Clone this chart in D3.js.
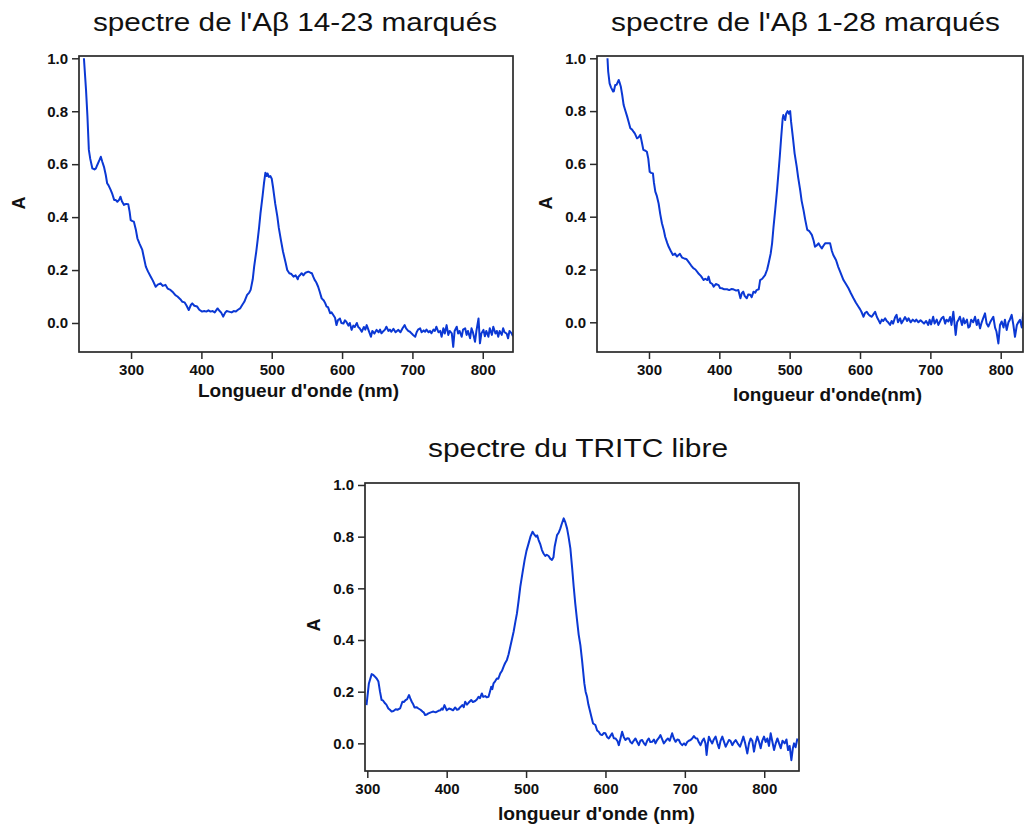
<!DOCTYPE html>
<html>
<head>
<meta charset="utf-8">
<script src="https://cdn.jsdelivr.net/npm/d3@7"></script>
<style>
  html, body { margin: 0; padding: 0; background: #fff; }
  svg { display: block; }
</style>
</head>
<body>
<svg id="chart" width="1024" height="828"></svg>
<script>
// ---------------- DATA ----------------
const titles = ["spectre de l'A\u03b2 14-23 marqués", "spectre de l'A\u03b2 1-28 marqués", "spectre du TRITC libre"];
const xLabels = ["Longueur d'onde (nm)", "longueur d'onde(nm)", "longueur d'onde (nm)"];
const yLabel = "A";
const xTicks = [300, 400, 500, 600, 700, 800];
const yTicks = [0.0, 0.2, 0.4, 0.6, 0.8, 1.0];

// [wavelength (nm), absorbance]
const spectrumAb1423 = [
[233,1.0],[236,0.88],[238,0.78],[240,0.654],[242,0.62],[245,0.584],[248,0.58],[250,0.584],[252,0.597],[255,0.615],
[257,0.628],[259,0.61],[261.5,0.59],[264,0.56],[266,0.528],[268,0.52],[271,0.503],[273,0.49],[276,0.465],[278,0.465],
[280.5,0.458],[283,0.465],[285,0.477],[287,0.46],[290,0.446],[293,0.45],[296,0.449],[298,0.42],[299.5,0.389],[302,0.385],
[304,0.383],[307,0.35],[309,0.32],[312,0.3],[316,0.276],[318,0.25],[321,0.213],[324,0.195],[328,0.175],[331,0.16],
[335,0.137],[338,0.145],[342,0.15],[345,0.14],[349,0.144],[352,0.13],[356,0.125],[360,0.115],[363,0.105],[366,0.1],
[370,0.09],[373,0.08],[376,0.078],[379,0.065],[382,0.049],[385,0.068],[387,0.074],[390,0.065],[394,0.062],[397,0.05],
[401,0.043],[404,0.045],[407,0.043],[410,0.048],[413,0.043],[416,0.045],[419,0.04],[423,0.055],[426,0.045],[428,0.04],
[431,0.024],[434,0.04],[436,0.045],[439,0.043],[443,0.04],[446,0.045],[449,0.043],[452,0.05],[455,0.055],[458,0.068],
[461,0.08],[465,0.106],[468,0.115],[470,0.125],[473,0.165],[475,0.213],[478,0.27],[480,0.314],[482,0.36],[484,0.414],
[487,0.48],[489,0.528],[491,0.568],[493,0.555],[494,0.565],[496,0.552],[498,0.555],[500,0.545],[502,0.51],[503,0.49],
[505,0.45],[508,0.402],[510,0.36],[513,0.314],[516,0.27],[520,0.225],[522,0.2],[525,0.188],[528,0.185],[531,0.175],
[534,0.18],[537,0.165],[538,0.175],[540,0.18],[542.5,0.188],[545,0.18],[548,0.19],[552,0.194],[555,0.19],[557,0.188],
[559,0.175],[561,0.163],[563,0.155],[566,0.137],[568,0.12],[571,0.093],[574,0.085],[576,0.075],[578,0.062],[580,0.06],
[583,0.037],[585,0.04],[587.5,0.03],[590,0.02],[592,-0.008],[594,0.01],[597,0.017],[599,0.0],[602,-0.002],[604,0.01],
[606,0.005],[609,-0.01],[611,0.0],[613.5,-0.026],[616,-0.01],[618,-0.015],[621,0.0],[623,-0.015],[625,-0.02],[628,-0.033],
[631,-0.015],[633,-0.025],[635,-0.008],[638,-0.03],[641,-0.052],[643,-0.03],[646,-0.04],[649,-0.026],[652,-0.035],[654,-0.025],
[656,-0.039],[659,-0.03],[661,-0.025],[663,-0.014],[666,-0.03],[668,-0.025],[670,-0.033],[673,-0.022],[676,-0.035],[678,-0.03],
[680,-0.026],[683,-0.035],[686,-0.02],[689,-0.008],[691,-0.02],[694,-0.03],[696.5,-0.033],[699,-0.04],[701,-0.045],[704,-0.052],
[706,-0.035],[708,-0.025],[711,-0.02],[713,-0.035],[716,-0.028],[718,-0.033],[720,-0.025],[723,-0.035],[725,-0.03],[727,-0.039],
[730,-0.025],[732,-0.03],[734,-0.014],[737,-0.035],[739.5,-0.03],[741.5,-0.052],[744,-0.02],[746,-0.04],[748.6,-0.008],[751,-0.045],
[753,-0.03],[756,-0.039],[758,-0.09],[760,-0.03],[763,-0.014],[765,-0.04],[767,-0.03],[770,-0.052],[772,-0.025],[775,-0.02],
[777,-0.045],[779,-0.03],[782,-0.058],[784,-0.02],[786,-0.035],[789,-0.071],[791,-0.03],[794,0.017],[796,-0.077],[798,-0.04],
[801,-0.026],[803,-0.05],[805,-0.03],[808,-0.052],[810,-0.02],[813,-0.045],[815,-0.014],[818,-0.04],[820,-0.03],[822,-0.052],
[824,-0.03],[827,-0.045],[829,-0.02],[831,-0.035],[834,-0.04],[836,-0.058],[838,-0.03],[841,-0.039],[843,-0.05]
];

const spectrumAb128 = [
[241,1.0],[242,0.95],[244,0.905],[246,0.89],[249,0.874],[250,0.875],[252,0.899],[254,0.9],[257,0.918],[258,0.91],
[260,0.892],[262,0.86],[264,0.823],[266,0.805],[269,0.779],[271,0.76],[273.5,0.735],[276,0.73],[278,0.722],[280,0.715],
[283,0.697],[285,0.7],[287.7,0.71],[290,0.68],[292,0.653],[295,0.65],[297,0.646],[299,0.62],[301,0.57],[303,0.566],
[305.6,0.564],[307,0.53],[309,0.495],[311,0.48],[313.7,0.45],[316,0.41],[318.4,0.375],[321,0.35],[323,0.324],[326,0.3],
[328,0.286],[331,0.27],[334,0.255],[337,0.26],[339.7,0.249],[342,0.255],[344,0.259],[347,0.245],[350,0.242],[353,0.24],
[356,0.23],[360,0.215],[363,0.205],[366,0.2],[370,0.186],[374,0.175],[377.6,0.16],[380,0.165],[383,0.16],[384.7,0.173],
[387,0.15],[390,0.145],[392,0.135],[395,0.145],[399,0.141],[401,0.13],[403.7,0.129],[407,0.125],[411,0.125],[414,0.122],
[417,0.126],[420,0.125],[424,0.12],[427,0.122],[430,0.091],[432,0.11],[434,0.116],[436,0.1],[439,0.091],[441,0.105],
[444,0.104],[446,0.095],[448.6,0.116],[451,0.112],[453,0.122],[456,0.125],[458,0.16],[461,0.165],[465,0.179],[468,0.2],
[470,0.223],[473,0.26],[475,0.299],[477,0.36],[479.4,0.425],[482,0.5],[484,0.564],[486,0.63],[488,0.703],[490,0.77],
[491,0.785],[493.6,0.766],[495,0.79],[497,0.8],[499,0.79],[500.7,0.8],[502,0.76],[505,0.69],[507,0.64],[510,0.59],
[512,0.55],[515,0.5],[517,0.46],[519.7,0.425],[522,0.39],[525,0.35],[528,0.345],[531.5,0.331],[534,0.31],[536,0.286],
[538,0.29],[541,0.299],[543,0.29],[545.7,0.28],[548,0.29],[550.4,0.299],[554,0.299],[557.5,0.299],[560,0.27],[562,0.255],
[566,0.235],[569,0.21],[572,0.19],[576.5,0.16],[580,0.145],[583.6,0.129],[587,0.11],[590.7,0.091],[594,0.075],[597.8,0.059],
[600,0.05],[602,0.04],[605,0.021],[607,0.035],[609.6,0.04],[612,0.03],[614,0.025],[616.7,0.021],[619,0.03],[621.5,0.04],
[624,0.02],[626,0.01],[628.6,-0.004],[631,0.01],[633,0.005],[635.7,0.015],[638,0.005],[640,0.0],[642.8,-0.01],[645,0.005],
[647,-0.005],[650,0.02],[652,0.028],[654,0.0],[657,0.015],[659,-0.004],[662,0.01],[664,0.02],[667,0.005],[669,0.015],
[672,0.0],[675,0.01],[678,0.003],[680,0.01],[683,0.0],[686,0.008],[688,0.003],[691,-0.005],[694,0.005],[697,-0.01],
[699,0.01],[701,-0.008],[704,0.021],[706,-0.005],[709,0.01],[711.4,-0.01],[714,0.005],[716,0.015],[718.5,0.021],[721,-0.005],
[723,0.01],[725.6,0.003],[728,0.02],[730,-0.01],[732.7,0.04],[736,-0.048],[738,0.0],[740,0.01],[742,0.021],[745,-0.01],
[747,0.015],[749,-0.004],[752,0.01],[754,-0.02],[756,-0.016],[758,0.01],[761,0.0],[763.5,0.021],[766,-0.01],[768,0.01],
[770.6,-0.023],[773,0.0],[775,0.015],[777.7,0.034],[780,-0.005],[782.4,-0.016],[785,0.0],[787,0.01],[789.5,0.021],[792,-0.02],
[794,-0.035],[796.7,-0.08],[799,-0.01],[801.4,0.003],[804,-0.02],[806,0.01],[808.5,-0.029],[811,0.0],[813,0.01],[815.6,0.028],
[818,-0.01],[820.3,-0.055],[823,-0.01],[825,0.0],[827.4,0.009],[830,-0.02],[832,0.034],[835,0.0]
];

const spectrumTRITC = [
[299,0.148],[302,0.232],[305.5,0.268],[307.5,0.265],[309.7,0.258],[312,0.25],[314,0.239],[316,0.2],[318,0.168],[320,0.165],
[322.3,0.155],[324,0.15],[326.5,0.135],[328.5,0.13],[330.7,0.123],[333,0.125],[335.8,0.132],[338,0.13],[341.3,0.135],[344.2,0.161],
[346,0.16],[348.4,0.168],[350,0.17],[352.6,0.187],[354,0.175],[356,0.161],[358,0.15],[359.4,0.139],[362,0.14],[364.4,0.135],
[367,0.13],[369.5,0.123],[371,0.12],[372.8,0.11],[375,0.112],[377,0.116],[380,0.12],[383.3,0.123],[386,0.12],[389.6,0.126],
[392,0.128],[393.8,0.135],[395,0.13],[397.2,0.148],[400.1,0.128],[403,0.135],[405.6,0.132],[408,0.128],[410.7,0.139],[413,0.13],
[414.9,0.132],[417,0.14],[419.9,0.148],[421.5,0.14],[423.3,0.161],[425.5,0.15],[427.5,0.157],[430.9,0.168],[433,0.16],[435.9,0.164],
[438,0.17],[440.1,0.18],[442,0.175],[444.3,0.193],[446,0.18],[448.5,0.183],[450.5,0.178],[452.7,0.18],[454.5,0.2],[456.1,0.219],
[457.5,0.21],[459,0.232],[461,0.24],[463.2,0.251],[465,0.25],[467.5,0.271],[469.5,0.28],[471.7,0.297],[473.5,0.31],[475.9,0.323],
[478,0.345],[480.1,0.374],[482,0.4],[484.3,0.432],[486.5,0.47],[488.5,0.503],[490.5,0.55],[492.7,0.606],[495.5,0.66],[498.2,0.71],
[500.5,0.745],[503.2,0.774],[505.5,0.8],[508.2,0.819],[510,0.81],[512.5,0.8],[514,0.805],[515.8,0.787],[518,0.77],[520,0.748],
[522,0.735],[524.2,0.725],[526,0.73],[528.4,0.725],[530.5,0.715],[532.6,0.71],[534.5,0.72],[536,0.761],[539,0.806],[541,0.815],
[543.2,0.832],[545,0.85],[547.4,0.871],[549.5,0.855],[551.6,0.832],[553.5,0.8],[555.8,0.755],[558,0.68],[560,0.606],[562,0.54],
[564.2,0.477],[566.3,0.42],[568.4,0.38],[570.5,0.322],[573.4,0.232],[575,0.2],[576.8,0.18],[578.5,0.15],[580.2,0.129],[582.5,0.1],
[584.4,0.077],[587.3,0.071],[589.5,0.05],[591.5,0.045],[593.5,0.035],[595.7,0.032],[598,0.04],[600,0.039],[602,0.025],[604.2,0.019],
[606.5,0.03],[608.4,0.039],[610.5,0.02],[612.6,0.019],[615,0.01],[616.8,-0.007],[619,0.02],[621,0.045],[623,0.025],[625.2,0.013],
[627.5,0.02],[629.4,0.019],[631.5,0.005],[633.6,0.0],[635.5,0.01],[637.8,0.019],[640,0.005],[642,-0.007],[644,0.01],[646.2,0.013],
[648.5,0.0],[650.4,-0.007],[652.5,0.01],[654.6,0.019],[656.5,0.005],[658.8,0.006],[661,0.015],[663,0.0],[665.1,0.013],[667,0.02],
[669.3,0.032],[671.5,0.015],[673.5,0.0],[676,0.01],[678.6,0.019],[681,0.01],[684,0.039],[686,0.02],[688.3,0.006],[690.5,0.015],
[692.5,0.013],[694.5,0.0],[696.7,-0.007],[699,0.0],[700.9,-0.007],[703,0.005],[705,0.01],[707.2,0.013],[709.5,0.02],[711.4,0.028],
[713.5,0.02],[715.6,0.019],[717.5,0.005],[719.8,-0.007],[722,0.01],[724,0.019],[726,0.0],[727.4,-0.045],[729,0.0],[730.3,0.026],
[732.5,0.01],[734.5,0.0],[736.5,0.015],[738.8,0.026],[741,0.0],[743,-0.019],[745,0.01],[747.2,0.026],[749.5,0.005],[751.4,-0.013],
[753.5,0.0],[755.6,0.013],[757.5,0.01],[759.8,-0.007],[762,0.005],[764,0.013],[766.5,0.0],[769.5,-0.013],[771.5,0.005],[773.7,0.026],
[776,0.0],[778.7,-0.039],[780.8,0.0],[782.9,0.019],[785,0.01],[787.1,-0.032],[789,0.0],[791.3,0.026],[793.5,0.005],[795.5,-0.019],
[797.5,0.01],[799.7,0.026],[801.8,0.005],[803.9,0.019],[806,-0.01],[808.1,0.039],[810,0.01],[812.4,-0.026],[814.5,0.0],[816.6,0.019],
[818.7,0.0],[820.8,-0.019],[823,0.01],[825.8,0.0],[828,0.015],[830,-0.026],[832,-0.01],[834.2,-0.065],[836,-0.02],[837.6,0.0],
[839.5,-0.015],[841.8,0.019]
];

// ---------------- LAYOUT ----------------
const panels = [
  { data: spectrumAb1423, title: titles[0], xlabel: xLabels[0],
    left: 79, top: 56, right: 513, bottom: 352, xdom: [226, 843], ydom: [-0.1096, 1.0087],
    titleX: 295, titleY: 31, titleW: 404, xlabX: 298.5, xlabY: 397, xlabW: 201, ylabX: 25, ylabY: 203 },
  { data: spectrumAb128, title: titles[1], xlabel: xLabels[1],
    left: 597, top: 56, right: 1023, bottom: 352, xdom: [226.1, 831.7], ydom: [-0.1125, 1.0087],
    titleX: 805.5, titleY: 31, titleW: 389, xlabX: 827.5, xlabY: 401, xlabW: 189, ylabX: 552, ylabY: 203 },
  { data: spectrumTRITC, title: titles[2], xlabel: xLabels[2],
    left: 365, top: 483, right: 799, bottom: 771, xdom: [297.1, 843.8], ydom: [-0.107, 1.0077],
    titleX: 578, titleY: 457, titleW: 300, xlabX: 596.5, xlabY: 820, xlabW: 197, ylabX: 320, ylabY: 625 }
];

const lineColor = "#0b38d4";
const frameColor = "#2a2a2a";
const svg = d3.select("#chart");
const fontFam = "'Liberation Sans', Arial, Helvetica, sans-serif";

panels.forEach((p, i) => {
  const x = d3.scaleLinear().domain(p.xdom).range([p.left, p.right]);
  const y = d3.scaleLinear().domain(p.ydom).range([p.bottom, p.top]);
  const g = svg.append("g");

  const clipId = "clip" + i;
  svg.append("clipPath").attr("id", clipId)
    .append("rect").attr("x", p.left).attr("y", p.top)
    .attr("width", p.right - p.left).attr("height", p.bottom - p.top);

  // title
  g.append("text").attr("x", p.titleX).attr("y", p.titleY)
    .attr("text-anchor", "middle")
    .attr("font-family", fontFam).attr("font-size", 25)
    .attr("textLength", p.titleW).attr("lengthAdjust", "spacingAndGlyphs")
    .attr("fill", "#111").text(p.title);

  // axes
  const xAxis = d3.axisBottom(x).tickValues(xTicks).tickSizeInner(7).tickSizeOuter(0).tickPadding(5)
    .tickFormat(d3.format("d"));
  const yAxis = d3.axisLeft(y).tickValues(yTicks).tickSizeInner(7).tickSizeOuter(0).tickPadding(4)
    .tickFormat(d3.format(".1f"));

  const gx = g.append("g").attr("transform", `translate(0,${p.bottom})`).call(xAxis);
  const gy = g.append("g").attr("transform", `translate(${p.left},0)`).call(yAxis);
  [gx, gy].forEach(a => {
    a.select(".domain").remove();
    a.selectAll(".tick line").attr("stroke", frameColor).attr("stroke-width", 1.5);
    a.selectAll(".tick text").attr("font-family", fontFam).attr("font-size", 15)
      .attr("font-weight", "bold").attr("fill", "#111");
  });

  // line
  const line = d3.line().x(d => x(d[0])).y(d => y(d[1]));
  g.append("path").datum(p.data)
    .attr("clip-path", `url(#${clipId})`)
    .attr("fill", "none").attr("stroke", lineColor).attr("stroke-width", 2)
    .attr("stroke-linejoin", "round").attr("d", line);

  // frame
  g.append("rect").attr("x", p.left).attr("y", p.top)
    .attr("width", p.right - p.left).attr("height", p.bottom - p.top)
    .attr("fill", "none").attr("stroke", frameColor).attr("stroke-width", 1.7);

  // axis labels
  g.append("text").attr("x", p.xlabX).attr("y", p.xlabY)
    .attr("text-anchor", "middle").attr("font-family", fontFam)
    .attr("font-size", 18.5).attr("font-weight", "bold").attr("fill", "#111")
    .attr("textLength", p.xlabW).attr("lengthAdjust", "spacingAndGlyphs")
    .text(p.xlabel);

  g.append("text").attr("transform", `translate(${p.ylabX},${p.ylabY}) rotate(-90)`)
    .attr("text-anchor", "middle").attr("font-family", fontFam)
    .attr("font-size", 18).attr("font-weight", "bold").attr("fill", "#111")
    .text(yLabel);
});
</script>
</body>
</html>
